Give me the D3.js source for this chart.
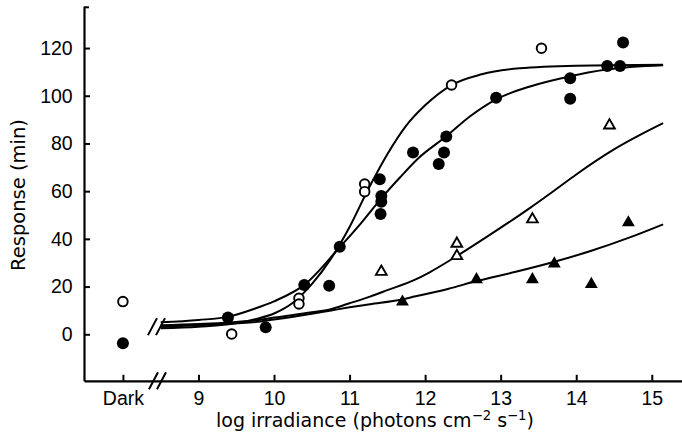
<!DOCTYPE html>
<html>
<head>
<meta charset="utf-8">
<script src="https://cdn.jsdelivr.net/npm/d3@7"></script>
<style>
  html, body { margin: 0; padding: 0; background: #fff; }
  svg { display: block; }
</style>
</head>
<body>
<svg id="chart" width="682" height="444"></svg>
<script>
// Dark-adapted position sits one log unit left of 9, behind an axis break
const darkPosition = 8;
const xTickValues = [8, 9, 10, 11, 12, 13, 14, 15];
const yTickValues = [0, 20, 40, 60, 80, 100, 120];

// Dark controls
const darkOpen = [13.7];
const darkFilled = [-3.8];

// Measured responses: [log irradiance, response (min)]
const openCircles = [
  [9.44, 0.1], [10.33, 15.1], [10.33, 12.7], [11.20, 63.0], [11.20, 59.8],
  [12.35, 104.5], [13.54, 119.9]
];
const filledCircles = [
  [9.39, 7.0], [9.89, 2.9], [10.40, 20.7], [10.73, 20.3], [10.87, 36.7],
  [11.40, 65.0], [11.42, 58.0], [11.42, 55.6], [11.41, 50.4], [11.84, 76.2],
  [12.18, 71.4], [12.25, 76.2], [12.28, 82.9], [12.94, 99.2], [13.92, 107.3],
  [13.92, 98.7], [14.41, 112.5], [14.58, 112.5], [14.62, 122.3]
];
const openTriangles = [
  [11.42, 26.2], [12.42, 38.0], [12.42, 32.8], [13.42, 48.2], [14.44, 87.6]
];
const filledTriangles = [
  [11.70, 13.6], [12.68, 23.0], [13.42, 23.0], [13.71, 29.6], [14.20, 21.0], [14.69, 46.8]
];

// Fitted curves
const fitOpenCircles = [
  [8.5, 2.5], [9.0, 3.2], [9.5, 4.6], [9.75, 6.3], [10.0, 8.7], [10.25, 13.2],
  [10.5, 21.0], [10.75, 31.5], [11.0, 45.0], [11.25, 61.0], [11.5, 75.5],
  [11.75, 87.5], [12.0, 96.0], [12.35, 104.5], [12.75, 109.0], [13.25, 111.5],
  [14.0, 112.6], [15.15, 113.0]
];
const fitFilledCircles = [
  [8.5, 5.0], [9.0, 6.0], [9.4, 7.4], [9.75, 10.8], [10.0, 13.8], [10.4, 20.7],
  [10.87, 36.5], [11.15, 46.5], [11.42, 57.0], [11.66, 65.5], [11.9, 73.5],
  [12.28, 83.0], [12.6, 91.5], [12.94, 98.5], [13.4, 104.0], [13.87, 107.8],
  [14.4, 111.0], [15.15, 112.8]
];
const fitOpenTriangles = [
  [8.5, 3.8], [9.0, 4.3], [9.5, 5.2], [9.75, 5.8], [10.0, 7.0], [10.5, 9.2],
  [10.74, 10.4], [11.0, 13.0], [11.27, 15.8], [11.5, 18.5], [11.86, 22.8],
  [12.06, 26.0], [12.42, 32.8], [12.8, 40.5], [13.38, 52.8], [13.72, 60.5],
  [14.0, 67.0], [14.5, 77.5], [15.15, 88.5]
];
const fitFilledTriangles = [
  [8.5, 3.2], [9.0, 3.8], [9.5, 4.6], [9.75, 5.1], [10.0, 6.2], [10.5, 8.6],
  [10.74, 9.9], [11.0, 11.3], [11.27, 12.6], [11.69, 14.6], [11.86, 15.8],
  [12.3, 19.0], [12.68, 22.3], [13.2, 26.2], [13.7, 30.3], [14.2, 35.0],
  [14.7, 40.5], [15.15, 46.1]
];

const svg = d3.select("#chart");

const x = d3.scaleLinear().domain([7.485, 15.4]).range([84, 682]);
const y = d3.scaleLinear().domain([-19.5, 137.5]).range([380.8, 6.3]);

const ink = "#000";
const tickFont = "'Liberation Sans', Arial, sans-serif";
const titleFont = "'DejaVu Sans', sans-serif";

// Axes
const xAxis = d3.axisBottom(x)
  .tickValues(xTickValues)
  .tickFormat(d => d === darkPosition ? "Dark" : String(d))
  .tickSize(-6)
  .tickSizeOuter(0)
  .tickPadding(10.3);

const yAxis = d3.axisLeft(y)
  .tickValues(yTickValues)
  .tickSize(-6)
  .tickSizeOuter(0)
  .tickPadding(11.3);

const gx = svg.append("g").attr("transform", `translate(0,${y.range()[0]})`).call(xAxis);
const gy = svg.append("g").attr("transform", `translate(${x.range()[0]},0)`).call(yAxis);

[gx, gy].forEach(g => {
  g.attr("font-family", tickFont).attr("font-size", 19.5);
  g.selectAll("path.domain").attr("stroke", ink).attr("stroke-width", 2.2);
  g.selectAll(".tick line").attr("stroke", ink).attr("stroke-width", 2);
  g.selectAll(".tick text").attr("fill", ink);
});

// short cap at the top of the y axis
svg.append("line")
  .attr("x1", x.range()[0]).attr("x2", x.range()[0] + 5)
  .attr("y1", y(137.5) + 1).attr("y2", y(137.5) + 1)
  .attr("stroke", ink).attr("stroke-width", 2);

// Axis break marks
function breakMarks(cx, cy) {
  [-4, 4].forEach(off => {
    svg.append("line")
      .attr("x1", cx + off - 4.5).attr("y1", cy + 8.5)
      .attr("x2", cx + off + 4.5).attr("y2", cy - 8.5)
      .attr("stroke", ink).attr("stroke-width", 2);
  });
}
breakMarks(157.5, y.range()[0]);
breakMarks(156.5, y(3.2));

// Fitted curves
const line = d3.line()
  .x(d => x(d[0]))
  .y(d => y(d[1]))
  .curve(d3.curveMonotoneX);

[fitOpenCircles, fitFilledCircles, fitOpenTriangles, fitFilledTriangles].forEach(series => {
  svg.append("path")
    .datum(series)
    .attr("d", line)
    .attr("fill", "none")
    .attr("stroke", ink)
    .attr("stroke-width", 2);
});

// Dark points
svg.selectAll("circle.dark-open")
  .data(darkOpen).join("circle")
  .attr("cx", x(darkPosition)).attr("cy", d => y(d))
  .attr("r", 4.8).attr("fill", "#fff").attr("stroke", ink).attr("stroke-width", 1.9);
svg.selectAll("circle.dark-filled")
  .data(darkFilled).join("circle")
  .attr("cx", x(darkPosition)).attr("cy", d => y(d))
  .attr("r", 6).attr("fill", ink);

// Measured points
svg.append("g").selectAll("circle")
  .data(filledCircles).join("circle")
  .attr("cx", d => x(d[0])).attr("cy", d => y(d[1]))
  .attr("r", 6).attr("fill", ink);

svg.append("g").selectAll("circle")
  .data(openCircles).join("circle")
  .attr("cx", d => x(d[0])).attr("cy", d => y(d[1]))
  .attr("r", 4.8).attr("fill", "#fff").attr("stroke", ink).attr("stroke-width", 1.9);

const triFilled = d3.symbol().type(d3.symbolTriangle).size(72);
const triOpen = d3.symbol().type(d3.symbolTriangle).size(50);

svg.append("g").selectAll("path")
  .data(filledTriangles).join("path")
  .attr("transform", d => `translate(${x(d[0])},${y(d[1])})`)
  .attr("d", triFilled).attr("fill", ink);

svg.append("g").selectAll("path")
  .data(openTriangles).join("path")
  .attr("transform", d => `translate(${x(d[0])},${y(d[1])})`)
  .attr("d", triOpen).attr("fill", "#fff").attr("stroke", ink).attr("stroke-width", 1.9);

// Axis titles
const xt = svg.append("text")
  .attr("x", 375).attr("y", 426.8)
  .attr("text-anchor", "middle")
  .attr("font-family", titleFont).attr("font-size", 19).attr("fill", ink);
xt.append("tspan").text("log irradiance (photons cm");
xt.append("tspan").attr("font-size", 13.2).attr("dy", -7).text("\u22122");
xt.append("tspan").attr("dy", 7).text(" s");
xt.append("tspan").attr("font-size", 13.2).attr("dy", -7).text("\u22121");
xt.append("tspan").attr("dy", 7).text(")");

svg.append("text")
  .attr("transform", "translate(25,195) rotate(-90)")
  .attr("text-anchor", "middle")
  .attr("font-family", titleFont).attr("font-size", 19.5).attr("fill", ink)
  .text("Response (min)");
</script>
</body>
</html>
